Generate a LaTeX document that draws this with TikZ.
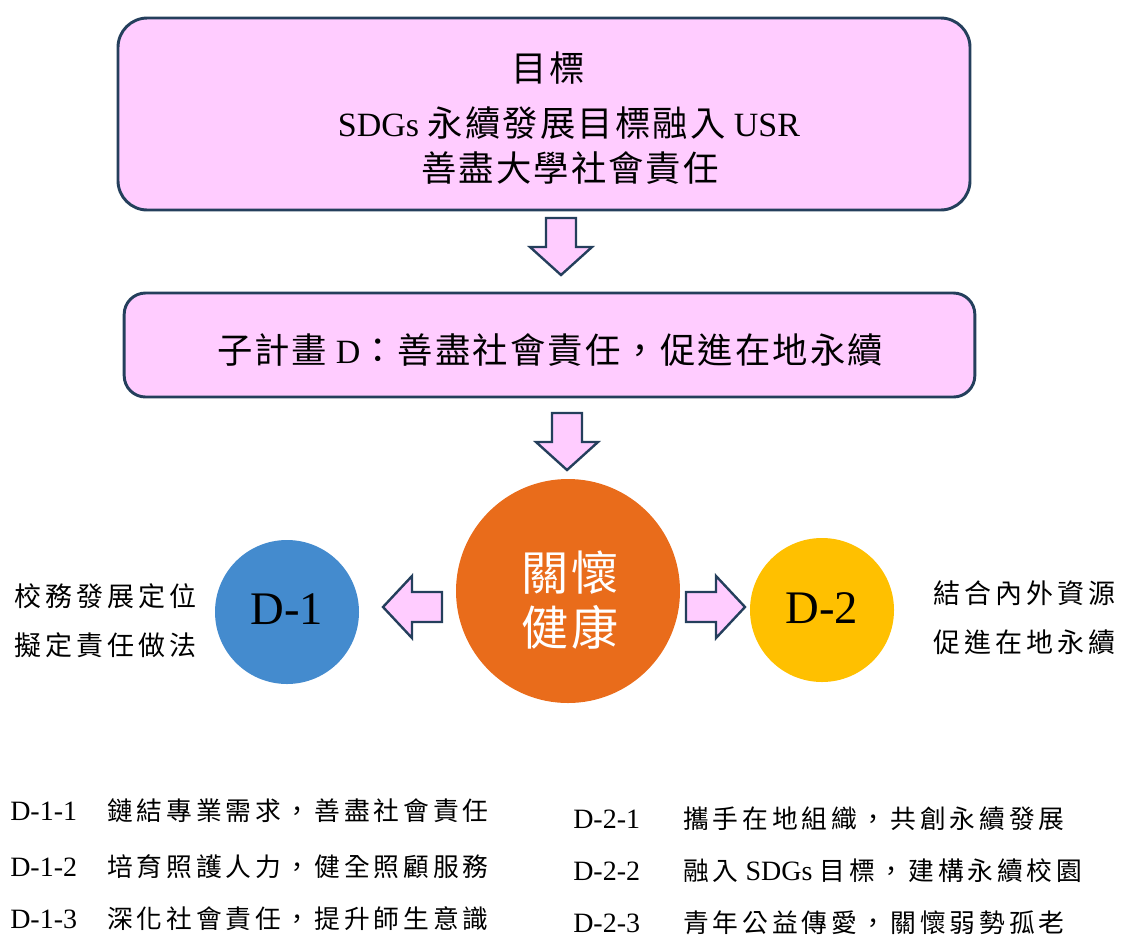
\documentclass[tikz,border=0pt]{standalone}
\usepackage{fontspec}
\setmainfont{Liberation Serif}
\newfontfamily\cjk[LetterSpace=6,Scale=1.04]{Noto Sans CJK TC}
\newfontfamily\cjkw[LetterSpace=15,Scale=0.92]{Noto Sans CJK TC}
\definecolor{pinkfill}{HTML}{FFCCFF}
\definecolor{navy}{HTML}{243F5C}
\definecolor{careorange}{HTML}{E96C1B}
\definecolor{dblue}{HTML}{448BCE}
\definecolor{dyellow}{HTML}{FFC000}

\begin{document}
\begin{tikzpicture}[x=0.75pt,y=-0.75pt,
box/.style = {draw=navy,fill=pinkfill,line width=2.2pt,inner sep=0pt},
blockarr/.style = {draw=navy,fill=pinkfill,line width=1.8pt},
ball/.style = {circle,inner sep=0pt,minimum size=108pt,font=\fontsize{35}{40}\selectfont},
bigtext/.style = {inner sep=0pt,font=\fontsize{25.5}{30}\selectfont},
sidetext/.style = {inner sep=0pt,align=left,font=\fontsize{22}{37}\selectfont\cjkw},
item/.style = {anchor=base west,inner sep=0pt,font=\fontsize{21}{25}\selectfont}]

\useasboundingbox (0,0) rectangle (1123,936);

% goal and sub-project boxes
\node[box,rounded corners=22pt,minimum width=639pt,minimum height=144pt] (goal) at (544,114) {};
\node[bigtext] (goaltitle) at (548,68) {\cjk 目標};
\node[bigtext] (goalline1) at (569,123) {SDGs\ {\cjk 永續發展目標融入}\ USR};
\node[bigtext] (goalline2) at (570,168) {\cjk 善盡大學社會責任};

\node[box,rounded corners=16pt,minimum width=638pt,minimum height=78pt] (sub) at (549.5,345) {};
\node[bigtext] (subtext) at (550,350) {{\cjk 子計畫} D{\cjk ：善盡社會責任，促進在地永續}};

% block arrows
\draw[blockarr,shift={(561,218)}] (-15,0) -- (15,0) -- (15,29) -- (31,29) -- (0,57) -- (-31,29) -- (-15,29) -- cycle;
\draw[blockarr,shift={(567,413)}] (-15,0) -- (15,0) -- (15,29) -- (31,29) -- (0,57) -- (-31,29) -- (-15,29) -- cycle;
\draw[blockarr] (442,592) -- (412,592) -- (412,576) -- (383,607) -- (412,638) -- (412,622) -- (442,622) -- cycle;
\draw[blockarr] (686,592) -- (716,592) -- (716,576) -- (745,607) -- (716,638) -- (716,622) -- (686,622) -- cycle;

% circles
\node[circle,fill=careorange,minimum size=168pt,inner sep=0pt] (care) at (568,591) {};
\node[align=center,inner sep=0pt,text=white,font=\fontsize{34}{41}\selectfont\cjk] (caretext) at (570,600) {關懷\\健康};
\node[ball,fill=dblue] (d1) at (287,612) {\raisebox{4pt}{D-1}};
\node[ball,fill=dyellow] (d2) at (822,610) {\raisebox{3pt}{D-2}};

\node[sidetext,anchor=west] (d1text) at (14,621) {校務發展定位\\擬定責任做法};
\node[sidetext,anchor=west] (d2text) at (933,618) {結合內外資源\\促進在地永續};

% item lists
\node[item] (d11) at (10,820) {D-1-1};
\node[item] (d11t) at (107,820) {\cjkw 鏈結專業需求，善盡社會責任};
\node[item] (d12) at (10,876) {D-1-2};
\node[item] (d12t) at (107,876) {\cjkw 培育照護人力，健全照顧服務};
\node[item] (d13) at (10,928) {D-1-3};
\node[item] (d13t) at (107,928) {\cjkw 深化社會責任，提升師生意識};

\node[item] (d21) at (573,828) {D-2-1};
\node[item] (d21t) at (683,828) {\cjkw 攜手在地組織，共創永續發展};
\node[item] (d22) at (573,880) {D-2-2};
\node[item] (d22t) at (683,880) {{\cjkw 融入}\ SDGs\ {\cjkw 目標，建構永續校園}};
\node[item] (d23) at (573,932) {D-2-3};
\node[item] (d23t) at (683,932) {\cjkw 青年公益傳愛，關懷弱勢孤老};
\end{tikzpicture}
\end{document}
